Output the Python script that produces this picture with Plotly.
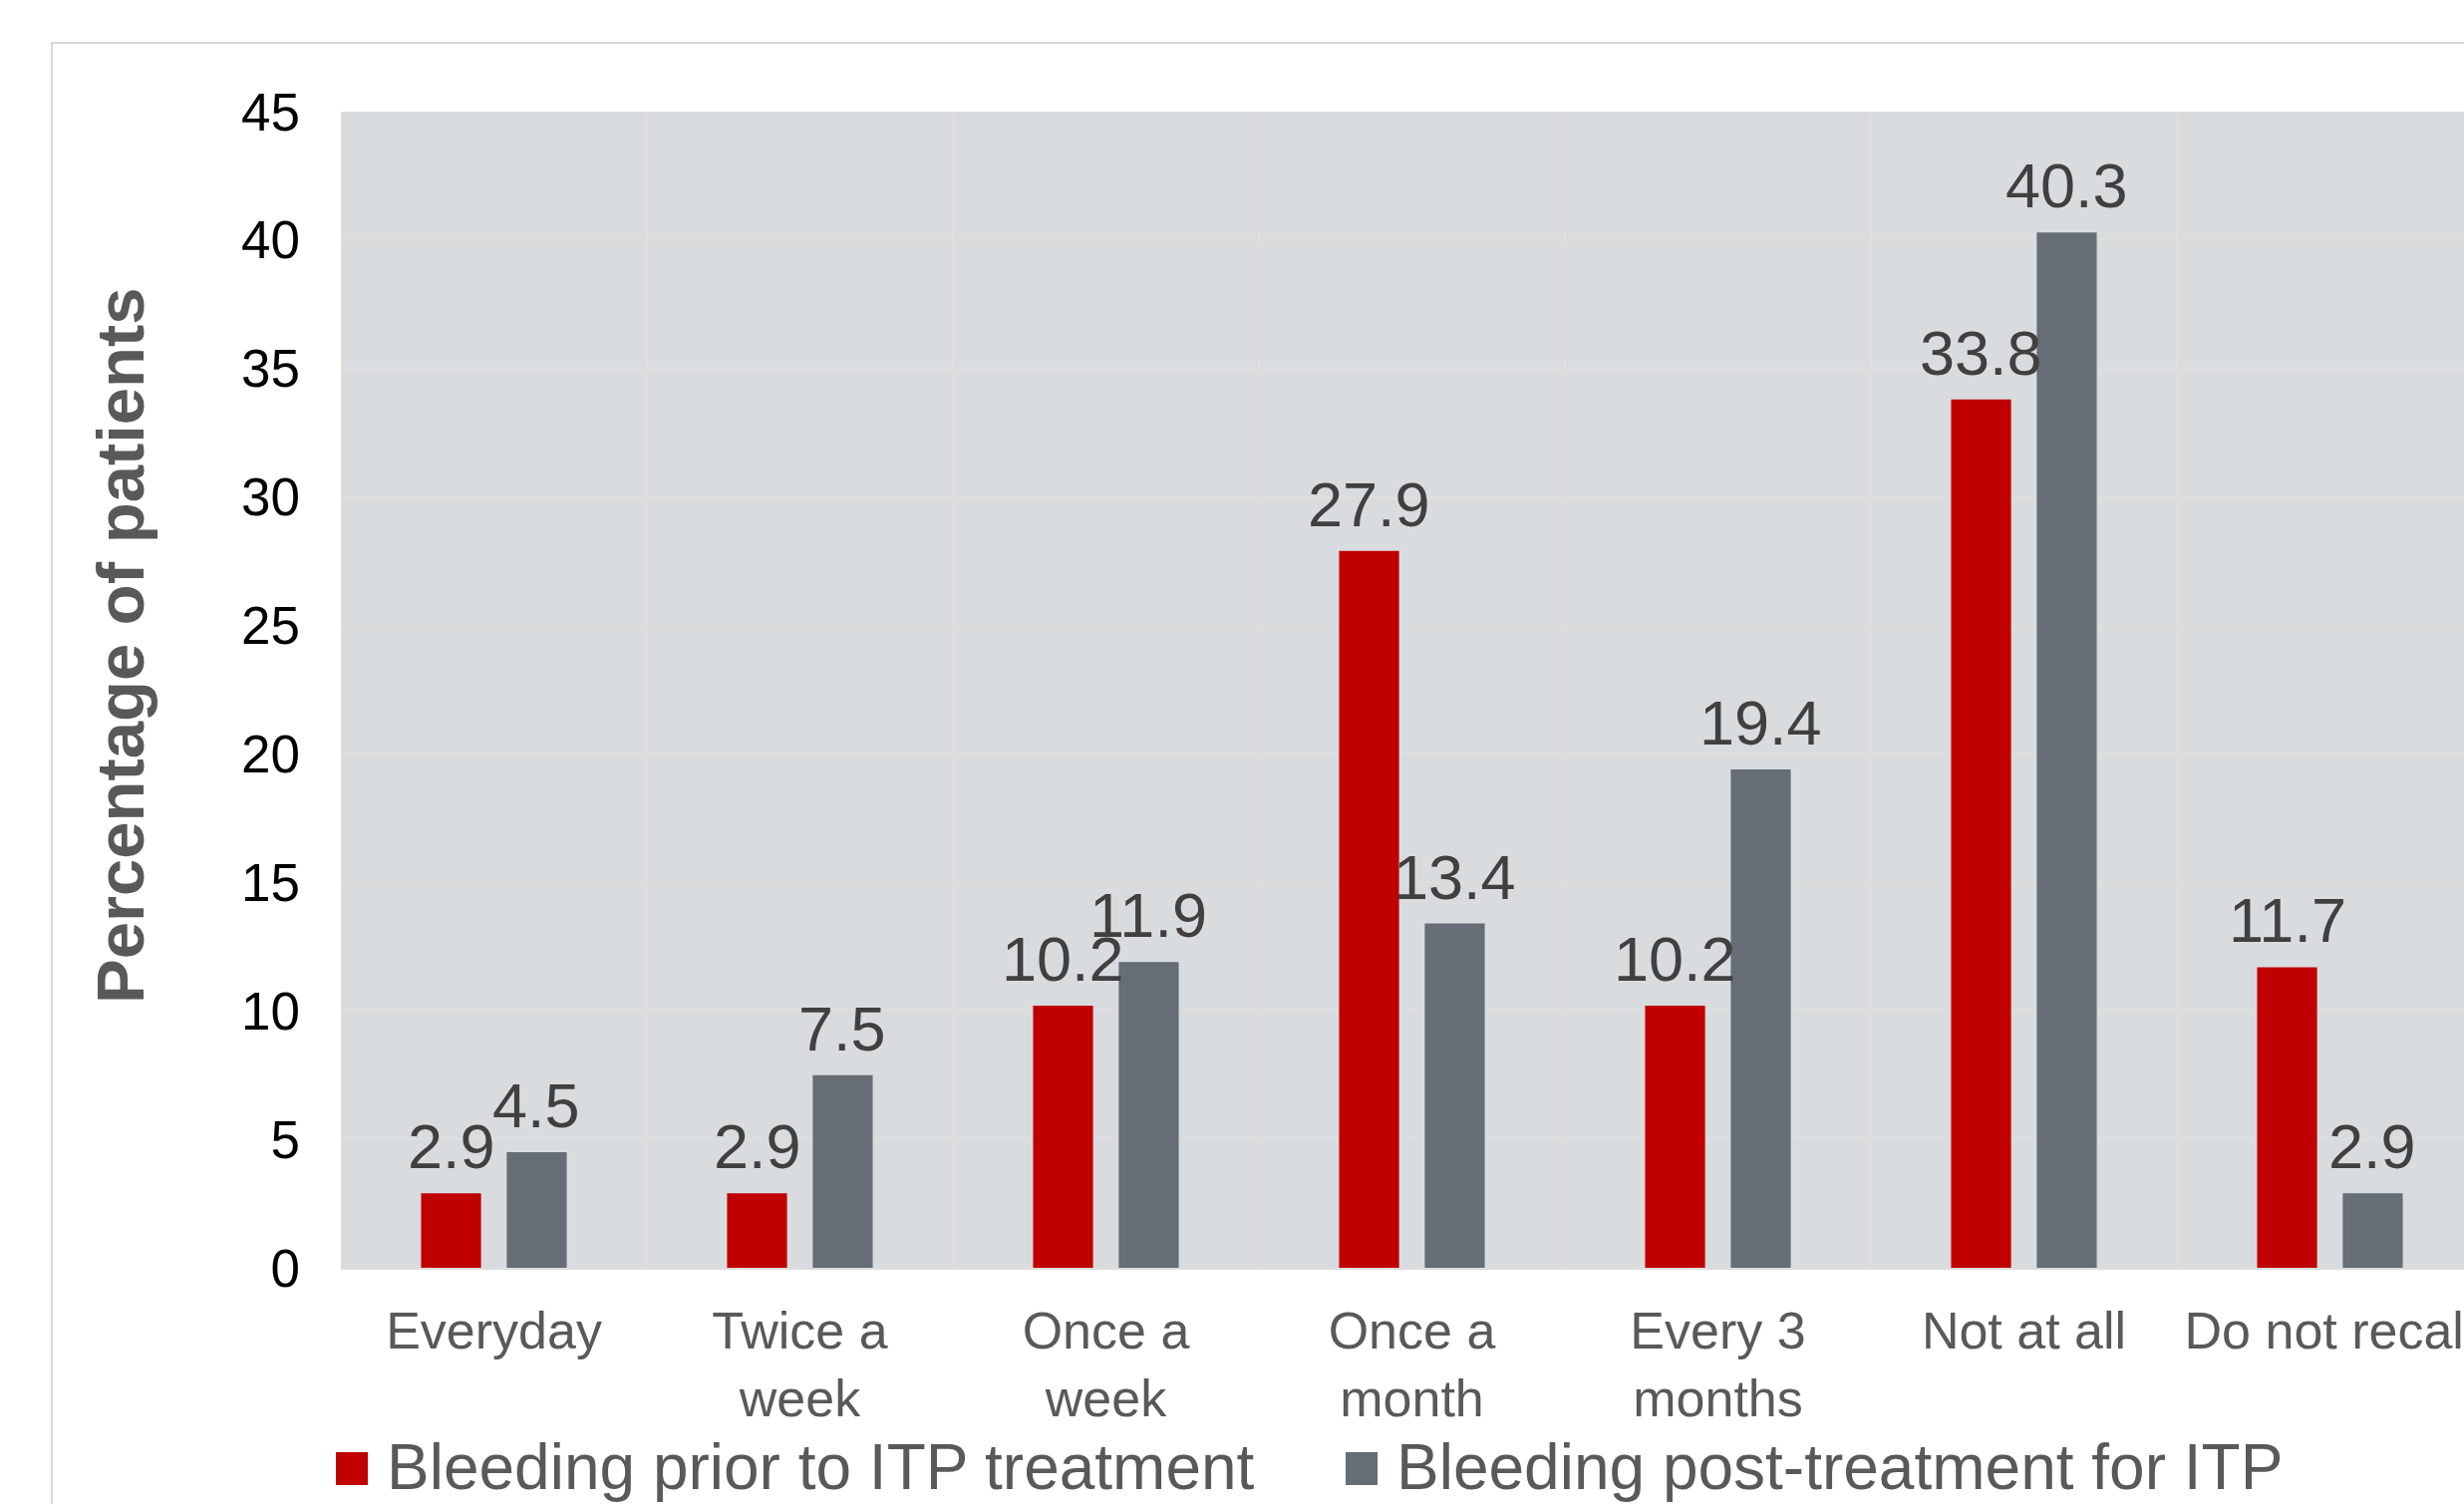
import plotly.graph_objects as go

# ---- data ----
categories = ["Everyday", "Twice a<br>week", "Once a<br>week", "Once a<br>month",
              "Every 3<br>months", "Not at all", "Do not recall"]
prior_values = [2.9, 2.9, 10.2, 27.9, 10.2, 33.8, 11.7]
post_values = [4.5, 7.5, 11.9, 13.4, 19.4, 40.3, 2.9]
series_names = ["Bleeding prior to ITP treatment", "Bleeding post-treatment for ITP"]
series_colors = ["#C00000", "#666D75"]
y_tick_values = [0, 5, 10, 15, 20, 25, 30, 35, 40, 45]
y_title = "Percentage of patients"

# ---- layout geometry (pixels) ----
W, H = 2472, 1509
L, T, B = 342, 112, 1272
PW, PH = W - L, B - T
CAT_PX = 307.0
BARGAP = 0.44
BARGROUPGAP = 0.30
SLOT_PX = CAT_PX * (1 - BARGAP) / 2

def px_x(x):
    return (x - L) / PW

def px_y(y):
    return (B - y) / PH

FONT = "Liberation Sans, Arial, sans-serif"

fig = go.Figure()
series_values = [prior_values, post_values]
for i, (name, vals, col) in enumerate(zip(series_names, series_values, series_colors)):
    fig.add_trace(go.Bar(
        x=categories, y=vals, name=name,
        marker=dict(color=col, line=dict(width=0)),
        showlegend=False,
    ))
    # value labels above bars
    for cat, v in zip(categories, vals):
        fig.add_annotation(
            x=cat, y=v, xref="x", yref="y",
            xshift=(i - 0.5) * SLOT_PX, yshift=10,
            xanchor="center", yanchor="bottom", showarrow=False,
            text=f"{v:.1f}",
            font=dict(family=FONT, size=63, color="#404040"),
        )

# manual legend (large square swatches)
legend_items = [(337, 386), (1350, 1399)]
for (sx, tx), name, col in zip(legend_items, series_names, series_colors):
    fig.add_shape(type="rect", xref="paper", yref="paper",
                  x0=px_x(sx), x1=px_x(sx + 32), y0=px_y(1490), y1=px_y(1457),
                  fillcolor=col, line=dict(width=0))
    fig.add_annotation(xref="paper", yref="paper", x=px_x(tx), y=px_y(1472),
                       xanchor="left", yanchor="middle", showarrow=False,
                       text=name, font=dict(family=FONT, size=64, color="#595959"))

# y-axis title
fig.add_annotation(xref="paper", yref="paper", x=px_x(120), y=px_y(648),
                   xanchor="center", yanchor="middle", showarrow=False,
                   textangle=-90, text=y_title,
                   font=dict(family=FONT, size=67, color="#595959", weight="bold"))

# outer frame
fig.add_shape(type="rect", xref="paper", yref="paper",
              x0=px_x(52), x1=1.2, y0=-0.4, y1=px_y(43),
              line=dict(color="#D9D9D9", width=2), fillcolor="rgba(0,0,0,0)")

fig.update_layout(
    width=W, height=H,
    margin=dict(l=L, r=0, t=T, b=H - B, pad=0),
    paper_bgcolor="white",
    plot_bgcolor="#D9DCDF",
    barmode="group",
    bargap=BARGAP,
    bargroupgap=BARGROUPGAP,
    font=dict(family=FONT),
    showlegend=False,
)
fig.update_xaxes(
    type="category",
    range=[-0.5, -0.5 + PW / CAT_PX],
    tickson="boundaries",
    ticks="",
    showgrid=True, gridcolor="#DEDEDC", gridwidth=2,
    showline=True, linecolor="#DCDCDC", linewidth=2,
    tickfont=dict(family=FONT, size=52, color="#595959"),
    ticklabelstandoff=17,
    automargin=False,
)
fig.update_yaxes(
    range=[0, 45],
    tickvals=y_tick_values,
    ticks="",
    showgrid=True, gridcolor="#DEDEDC", gridwidth=2,
    zeroline=False,
    tickfont=dict(family=FONT, size=53, color="#000000"),
    ticklabelstandoff=40,
    automargin=False,
)

fig.write_html("out.html")
